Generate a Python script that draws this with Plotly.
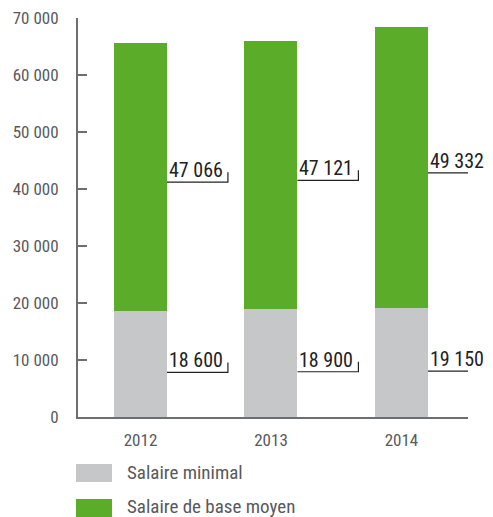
import plotly.graph_objects as go

years = ["2012", "2013", "2014"]
salaire_minimal = [18600, 18900, 19150]
salaire_moyen = [47066, 47121, 49332]
series_names = ["Salaire minimal", "Salaire de base moyen"]
y_ticks = [0, 10000, 20000, 30000, 40000, 50000, 60000, 70000]

GREY = "#c6c7c9"
GREEN = "#5bac28"
AXIS = "#6d6e70"
FONT = "Liberation Sans Narrow, Roboto Condensed, Roboto, Arial, sans-serif"

def fmt(v):
    return f"{v:,}".replace(",", " ")

xs = list(range(len(years)))
bw = 0.406

fig = go.Figure()
fig.add_trace(go.Bar(x=xs, y=salaire_minimal, marker_color=GREY, width=bw,
                     name=series_names[0], showlegend=False, marker_line_width=0,
                     hoverinfo="skip"))
fig.add_trace(go.Bar(x=xs, y=salaire_moyen, marker_color=GREEN, width=bw,
                     name=series_names[1], showlegend=False, marker_line_width=0,
                     hoverinfo="skip"))

px_per_unit = 57.0 / 10000.0
tick_h = 10 / px_per_unit
call_w = 0.467

for i in xs:
    for base, val in [(0, salaire_minimal[i]), (salaire_minimal[i], salaire_moyen[i])]:
        frac = 0.42 if base == 0 else 0.48
        ly = base + val * frac
        x0 = i + bw / 2
        x1 = x0 + call_w
        fig.add_shape(type="path",
                      path=f"M {x0} {ly} L {x1} {ly} L {x1} {ly + tick_h}",
                      xref="x", yref="y", line=dict(color="#222", width=1.2))
        fig.add_annotation(x=x0, y=ly, xref="x", yref="y", text=fmt(val),
                           showarrow=False, xanchor="left", yanchor="bottom",
                           xshift=0, yshift=-2,
                           font=dict(family=FONT, size=20, color="#222"))

# plot area in pixels: x 78..468, y 18..417
def px_x(p):
    return (p - 78) / 390.0

def px_y(p):
    return (417 - p) / 399.0

legend_colors = [GREY, GREEN]
for k, name in enumerate(series_names):
    top = 464 + 35 * k
    fig.add_shape(type="rect", xref="paper", yref="paper",
                  x0=px_x(76), x1=px_x(112), y0=px_y(top + 18), y1=px_y(top),
                  fillcolor=legend_colors[k], line_width=0)
    fig.add_annotation(x=px_x(125), y=px_y(top + 8), xref="paper", yref="paper",
                       text=name, showarrow=False, xanchor="left", yanchor="middle",
                       font=dict(family=FONT, size=19, color="#58595b"))

fig.update_layout(
    width=493, height=517,
    margin=dict(l=78, r=25, t=18, b=100, autoexpand=False),
    paper_bgcolor="white", plot_bgcolor="white",
    barmode="stack", bargap=0,
    font=dict(family=FONT, size=17, color="#58595b"),
    xaxis=dict(range=[-0.479, 2.51], tickvals=xs, ticktext=years,
               showgrid=False, zeroline=False, showline=True,
               linecolor=AXIS, linewidth=2, ticks="", ticklabelstandoff=7,
               automargin=False,
               tickfont=dict(size=17, color="#58595b")),
    yaxis=dict(range=[0, 70000], tickvals=y_ticks,
               ticktext=[fmt(v) for v in y_ticks],
               showgrid=False, zeroline=False, showline=True,
               linecolor=AXIS, linewidth=2, ticks="inside", ticklen=9,
               tickcolor=AXIS, tickwidth=2, ticklabelstandoff=14,
               automargin=False,
               tickfont=dict(size=17, color="#58595b")),
)

fig.write_html("out.html", config={"displayModeBar": False},
               post_script="document.body.style.margin='0';document.body.style.overflow='hidden';")
